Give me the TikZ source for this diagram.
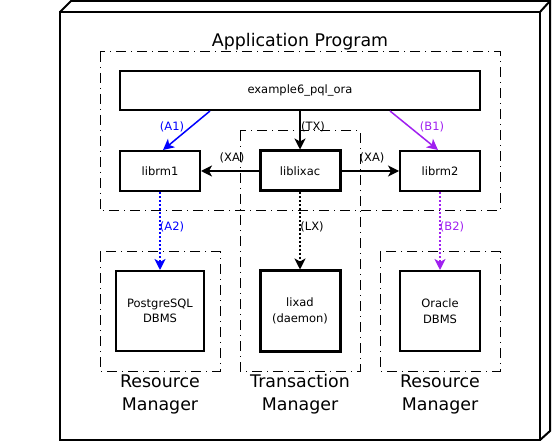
\documentclass[tikz,border=0pt]{standalone}
\usepackage{fontspec}
\setmainfont{DejaVu Sans}
\usetikzlibrary{arrows.meta}
\definecolor{abl}{RGB}{0,0,255}
\definecolor{bpu}{RGB}{160,32,240}
\tikzset{
  box/.style={draw, line width=2bp, inner sep=0pt, align=center, font=\fontsize{11.5bp}{15.5bp}\selectfont},
  thickbox/.style={box, line width=3bp},
  grp/.style={draw, line width=1bp, dash pattern=on 10bp off 5bp on 1bp off 5bp},
  lbl/.style={font=\fontsize{11.5bp}{13bp}\selectfont, inner sep=0pt},
  big/.style={font=\fontsize{17.4bp}{23bp}\selectfont, align=center, inner sep=0pt},
  arr/.style={line width=1.5bp, -{Stealth[length=11bp,width=11bp,inset=3bp]}},
  dot/.style={arr, line width=2bp, dash pattern=on 2bp off 2bp},
}
\begin{document}
\begin{tikzpicture}[x=1bp,y=-1bp]
\useasboundingbox (0,0) rectangle (552,444);
% outer 3D box
\draw[line width=2bp, line join=miter] (60,12) rectangle (540,440);
\draw[line width=2bp] (60,12) -- (71,1) -- (550,1) -- (550,431) -- (540,440);
\draw[line width=2bp] (540,12) -- (550,1);
% groups
\draw[grp] (100,52) rectangle (500,211);
\draw[grp] (240,131) rectangle (360,371);
\draw[grp] (100,252) rectangle (220,371);
\draw[grp] (380,252) rectangle (500,371);
\node[big] (tapp) at (300,42) {Application Program};
\node[big] (trm1) at (160,394) {Resource\\Manager};
\node[big] (ttm) at (300,394) {Transaction\\Manager};
\node[big] (trm2) at (440,394) {Resource\\Manager};
% nodes
\node[box, minimum width=360bp, minimum height=39bp] (ex) at (300,90.5) {example6\_pql\_ora};
\node[box, minimum width=80bp, minimum height=40bp] (rm1) at (160,171) {librm1};
\node[thickbox, minimum width=80bp, minimum height=40bp] (lx) at (300,171) {liblixac};
\node[box, minimum width=80bp, minimum height=40bp] (rm2) at (440,171) {librm2};
\node[box, minimum width=88bp, minimum height=80bp] (pg) at (160,311) {PostgreSQL\\DBMS};
\node[thickbox, minimum width=80bp, minimum height=80bp] (ld) at (300,311) {lixad\\(daemon)};
\node[box, minimum width=80bp, minimum height=80bp] (or) at (440,311) {Oracle\\DBMS};
% arrows
\draw[arr, abl] (ex.south -| 210,0) -- (rm1.north -| 163,0);
\draw[arr, bpu] (ex.south -| 390,0) -- (rm2.north -| 438,0);
\draw[arr] (ex.south -| lx.north) -- (lx.north);
\draw[arr] (lx.west) -- (rm1.east);
\draw[arr] (lx.east) -- (rm2.east -| rm2.west);
\draw[dot, abl] (rm1.south) -- (pg.north);
\draw[dot] (lx.south) -- (ld.north);
\draw[dot, bpu] (rm2.south) -- (or.north);
% labels
\node[lbl, text=abl] (la1) at (172,127) {(A1)};
\node[lbl] (ltx) at (313,127) {(TX)};
\node[lbl, text=bpu] (lb1) at (432,127) {(B1)};
\node[lbl] (lxa1) at (232,158) {(XA)};
\node[lbl] (lxa2) at (372,158) {(XA)};
\node[lbl, text=abl] (la2) at (172,227) {(A2)};
\node[lbl] (llx) at (312,227) {(LX)};
\node[lbl, text=bpu] (lb2) at (452,227) {(B2)};
\end{tikzpicture}
\end{document}
